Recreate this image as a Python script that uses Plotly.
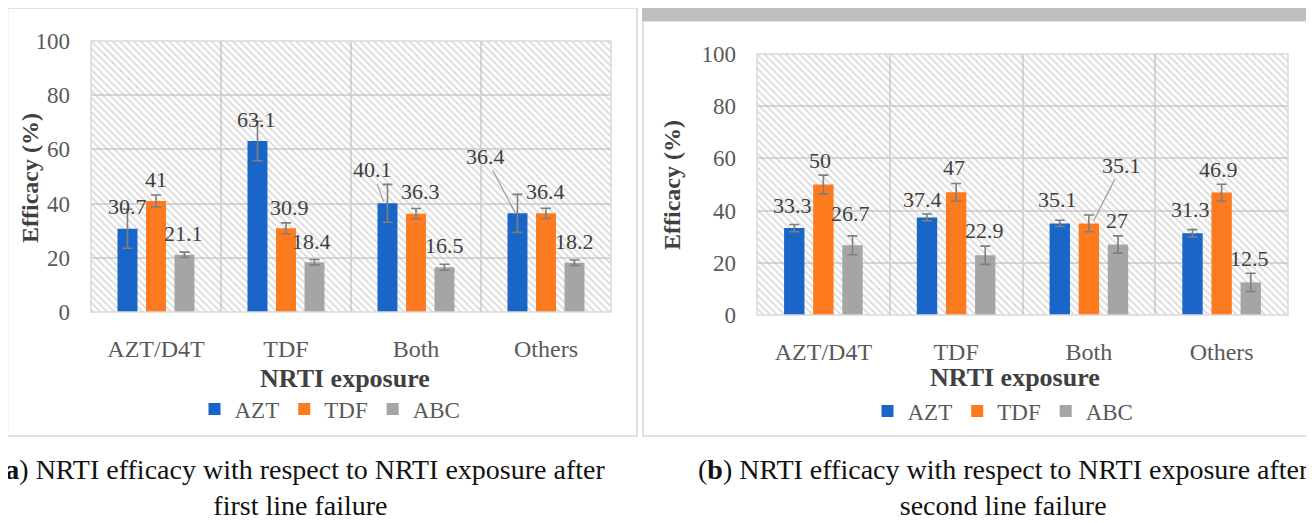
import plotly.graph_objects as go

# ---------------- data ----------------
categories = ["AZT/D4T", "TDF", "Both", "Others"]
series_names = ["AZT", "TDF", "ABC"]

# panel (a): after first line failure
a_azt = [30.7, 63.1, 40.1, 36.4]
a_tdf = [41, 30.9, 36.3, 36.4]
a_abc = [21.1, 18.4, 16.5, 18.2]
a_azt_err = [7.2, 7.3, 7.0, 7.0]
a_tdf_err = [2.2, 2.0, 1.9, 1.9]
a_abc_err = [1.0, 1.0, 1.1, 1.0]

# panel (b): after second line failure
b_azt = [33.3, 37.4, 35.1, 31.3]
b_tdf = [50, 47, 35.1, 46.9]
b_abc = [26.7, 22.9, 27, 12.5]
b_azt_err = [1.4, 1.3, 1.2, 1.4]
b_tdf_err = [3.6, 3.4, 3.2, 3.2]
b_abc_err = [3.6, 3.5, 3.3, 3.5]

y_ticks = [0, 20, 40, 60, 80, 100]
y_max = 100

caption_a = "(<b>a</b>) NRTI efficacy with respect to NRTI exposure after<br>first line failure"
caption_b = "(<b>b</b>) NRTI efficacy with respect to NRTI exposure after<br>second line failure"

# ---------------- style ----------------
OFF = 8                      # page (body) margin of the html page
W, H = 1314 - OFF, 523 - OFF  # figure size so the page fits the window
colors = ["#1a66c8", "#fd7b1e", "#a5a5a5"]
FONT = "Liberation Serif"
GRID = "#d9d9d9"
BARGAP = 0.342
BARGROUPGAP = 0.3
slot = (1 - BARGAP) / 3
LBL = 22

# label offsets in px (dx, dy-up) per series per category
a_label_off = [
    [(0, 22), (-1, 22), None, None],
    [(0, 21.5), (3, 21), (4, 22), (-1, 22)],
    [(-1, 21.5), (-3, 21), (0, 21.5), (0, 21)],
]
b_label_off = [
    [(-2, 23), (-5, 18), (-2, 24), (-2, 24)],
    [(-3, 24), (-2, 25), None, (-3, 23)],
    [(-2, 32), (-1, 25), (-1, 24.5), (-1, 24)],
]
# leader-line labels: (series, category): (xshift, yshift, ax, ay)
a_leaders = {(0, 2): (-4, 1.5, -11, -32), (0, 3): (-2, 0, -30, -57)}
b_leaders = {(1, 2): (5, 3, 28, -55)}


def px(x, y):
    """screen pixel (x, y) -> paper fraction"""
    return (x - OFF) / W, 1 - (y - OFF) / H


def domx(a, b):
    return [px(a, 0)[0], px(b, 0)[0]]


def domy(top, bottom):
    return [px(0, bottom)[1], px(0, top)[1]]


fig = go.Figure()

panels = [
    dict(vals=[a_azt, a_tdf, a_abc], errs=[a_azt_err, a_tdf_err, a_abc_err],
         hx="x", dx="x3", y="y", legend="legend", offs=a_label_off, leaders=a_leaders),
    dict(vals=[b_azt, b_tdf, b_abc], errs=[b_azt_err, b_tdf_err, b_abc_err],
         hx="x2", dx="x4", y="y2", legend="legend2", offs=b_label_off, leaders=b_leaders),
]

annotations = []
for p in panels:
    # hatched plot-area background
    fig.add_trace(go.Bar(
        x=[0.5], y=[y_max], width=[1], xaxis=p["hx"], yaxis=p["y"],
        marker=dict(color="rgba(255,255,255,0)", line=dict(width=0),
                    pattern=dict(shape="\\", fgcolor="#bababa", size=5,
                                 solidity=0.4, fillmode="overlay")),
        showlegend=False, hoverinfo="skip"))
    for j, name in enumerate(series_names):
        fig.add_trace(go.Bar(
            name=name, x=categories, y=p["vals"][j], xaxis=p["dx"], yaxis=p["y"],
            marker=dict(color=colors[j], line=dict(width=0)),
            error_y=dict(type="data", array=p["errs"][j], color="#7f7f7f",
                         thickness=1.6, width=5),
            legend=p["legend"]))
        for i, v in enumerate(p["vals"][j]):
            xpos = i + (j - 1) * slot
            key = (j, i)
            if key in p["leaders"]:
                xs, ys, ax, ay = p["leaders"][key]
                annotations.append(dict(
                    x=xpos, y=v, xref=p["dx"], yref=p["y"], text=f"{v:g}",
                    xshift=xs, yshift=ys, showarrow=True, ax=ax, ay=ay,
                    arrowhead=0, arrowwidth=1.2, arrowcolor="#a0a0a0", standoff=0,
                    font=dict(family=FONT, size=LBL, color="#404040")))
            else:
                dxp, dyp = p["offs"][j][i]
                annotations.append(dict(
                    x=xpos, y=v, xref=p["dx"], yref=p["y"], text=f"{v:g}",
                    xshift=dxp, yshift=dyp, showarrow=False,
                    xanchor="center", yanchor="middle",
                    font=dict(family=FONT, size=LBL, color="#404040")))

# axis titles
for (x, y) in [(30, 178), (672, 185)]:
    xx, yy = px(x, y)
    annotations.append(dict(x=xx, y=yy, xref="paper", yref="paper", text="<b>Efficacy (%)</b>",
                            textangle=-90, showarrow=False, xanchor="center", yanchor="middle",
                            font=dict(family=FONT, size=24, color="#404040")))
for (x, y) in [(345, 378), (1015, 377)]:
    xx, yy = px(x, y)
    annotations.append(dict(x=xx, y=yy, xref="paper", yref="paper", text="<b>NRTI exposure</b>",
                            showarrow=False, xanchor="center", yanchor="middle",
                            font=dict(family=FONT, size=26, color="#404040")))
# captions
for (x, y, t) in [(300, 487, caption_a), (1003, 487, caption_b)]:
    xx, yy = px(x, y)
    annotations.append(dict(x=xx, y=yy, xref="paper", yref="paper", text=t, showarrow=False,
                            xanchor="center", yanchor="middle", align="center",
                            font=dict(family=FONT, size=28, color="#111111")))

dom_a_x = domx(91, 611)
dom_a_y = domy(41, 312)
dom_b_x = domx(757, 1288)
dom_b_y = domy(54, 315)

ytickfont = dict(family=FONT, size=23, color="#595959")
xtickfont = dict(family=FONT, size=24, color="#595959")


def hatch_axis(dom, anchor):
    return dict(domain=dom, range=[0, 1], visible=False, anchor=anchor, fixedrange=True,
                automargin=False)


def cat_axis(over, anchor):
    return dict(overlaying=over, anchor=anchor, type="category", categoryorder="array",
                categoryarray=categories, range=[-0.5, 3.5], showgrid=True, tickson="boundaries",
                gridcolor=GRID, gridwidth=1.5, ticks="", ticklabelstandoff=20,
                tickfont=xtickfont, showline=False, zeroline=False, automargin=False)


def val_axis(dom, anchor):
    return dict(domain=dom, anchor=anchor, range=[0, y_max], tickvals=y_ticks,
                showgrid=True, gridcolor=GRID, gridwidth=1.5, zeroline=False,
                ticks="", ticklabelstandoff=20, tickfont=ytickfont, showline=False,
                automargin=False)


def rect_px(xa, ya, xb, yb, **kw):
    x0, y1 = px(xa, ya)
    x1, y0 = px(xb, yb)
    return dict(type="rect", xref="paper", yref="paper", x0=x0, x1=x1, y0=y0, y1=y1, **kw)


shapes = []
# plot-area borders
for xr, yr in [("x domain", "y domain"), ("x2 domain", "y2 domain")]:
    shapes.append(dict(type="rect", xref=xr, yref=yr, x0=0, x1=1, y0=0, y1=1,
                       line=dict(color=GRID, width=1.5), layer="above"))
# panel frames
shapes.append(rect_px(7.5, 8, 637, 436, line=dict(color="#d6d6d6", width=1.5), layer="below"))
shapes.append(rect_px(643, 21, 1308, 436, line=dict(color="#d6d6d6", width=1.5), layer="below"))
shapes.append(rect_px(642, 8, 1320, 21, fillcolor="#bfbfbf", line=dict(width=0), layer="below"))

lx, ly = px(330, 409)
rx, ry = px(1003, 411)
legend_font = dict(family=FONT, size=23, color="#595959")

fig.update_layout(
    width=W, height=H, margin=dict(l=0, r=0, t=0, b=0, autoexpand=False),
    font=dict(family=FONT),
    paper_bgcolor="white", plot_bgcolor="white",
    barmode="group", bargap=BARGAP, bargroupgap=BARGROUPGAP,
    xaxis=hatch_axis(dom_a_x, "y"),
    xaxis2=hatch_axis(dom_b_x, "y2"),
    xaxis3=cat_axis("x", "y"),
    xaxis4=cat_axis("x2", "y2"),
    yaxis=val_axis(dom_a_y, "x"),
    yaxis2=val_axis(dom_b_y, "x2"),
    legend=dict(orientation="h", x=lx, y=ly, xanchor="center", yanchor="middle",
                font=legend_font, bgcolor="rgba(0,0,0,0)", itemclick=False),
    legend2=dict(orientation="h", x=rx, y=ry, xanchor="center", yanchor="middle",
                 font=legend_font, bgcolor="rgba(0,0,0,0)", itemclick=False),
    annotations=annotations, shapes=shapes, showlegend=True,
)

fig.write_html("out.html")
